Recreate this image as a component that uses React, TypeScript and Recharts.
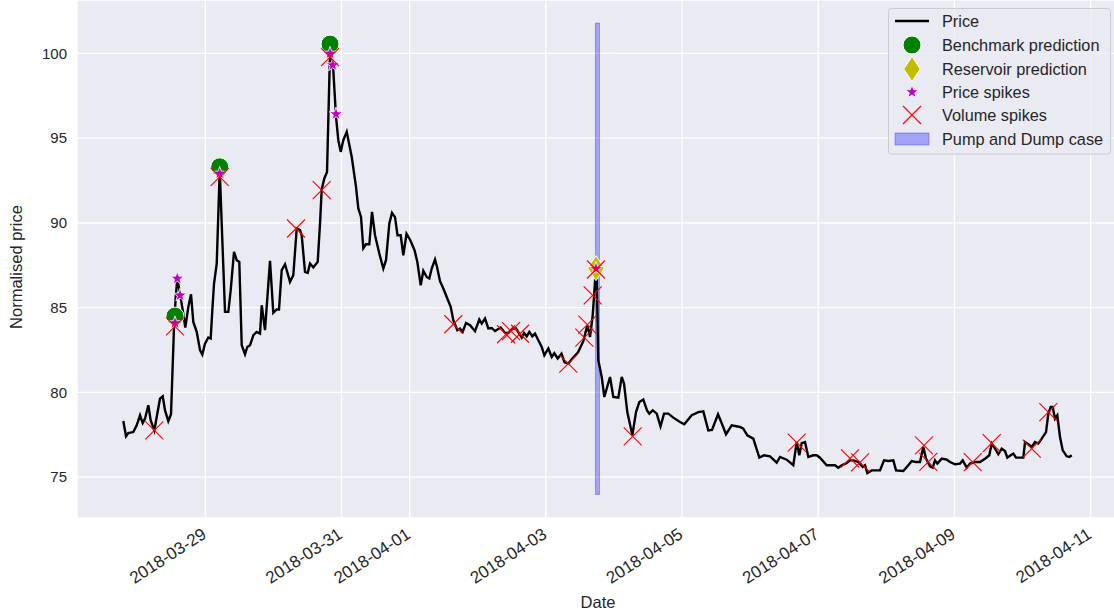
import React from "react";
import {
  ComposedChart,
  Line,
  Scatter,
  XAxis,
  YAxis,
  CartesianGrid,
  ReferenceArea,
} from "recharts";

// hours since 2018-03-29 00:00
const priceHours = [-28.9,-27.95,-27.14,-25.37,-24.18,-23.01,-22.06,-21.25,-20.09,-19.24,-17.97,-17.13,-15.97,-15.01,-14.2,-13.04,-12.09,-11.03,-10.43,-9.87,-8.92,-7.96,-7.05,-5.99,-5.04,-4.23,-3.03,-1.87,-1.06,-0.11,1.06,1.9,2.47,3.07,4.02,5.08,6.13,6.94,8.11,8.95,10.11,11.07,11.98,12.83,13.99,14.8,15.75,16.92,18.11,19.28,19.88,21.04,22.8,23.96,25.16,25.97,26.92,28.09,29.85,31.01,32.21,33.37,33.97,35.14,36.09,36.9,38.06,39.61,40.42,41.02,41.94,42.89,43.95,45.11,46.06,46.87,47.72,48.63,49.83,51.59,53.11,53.92,54.87,55.68,56.63,57.8,58.75,59.81,61.32,62.73,63.68,64.85,65.8,66.85,67.74,68.86,69.78,70.91,72.25,73.73,74.71,75.91,76.83,78.03,78.94,79.79,80.95,81.66,82.71,83.88,85.18,86.48,87.4,88.81,89.76,90.71,91.88,93.29,95.05,96.56,97.41,98.57,99.73,100.93,102.1,104.1,105.62,106.78,108.33,109.5,110.66,111.51,112.32,113.27,114.18,115.24,116.19,117.36,118.55,119.47,120.88,122.08,122.99,124.19,125.53,126.59,127.93,129.58,131.35,133.21,134.62,135.58,136.53,137.34,137.87,138.5,139.7,140.62,142.63,143.79,145.55,146.75,147.56,148.72,150.49,151.79,152.95,154.36,155.67,156.48,157.68,159.09,160.42,161.66,163.17,164.93,167.29,168.81,171.41,173.74,175.5,177.26,178.57,180.68,181.99,183.5,185.51,188.44,189.6,191.01,193.12,195.24,196.89,199.01,201.37,202.54,204.89,207.22,208.42,209.34,210.18,211.35,212.51,214.27,215.47,216.63,218.99,221.92,223.08,224.28,226.04,227.21,228.37,230.13,231.68,232.49,233.3,234.85,237.78,239.19,240.7,242.47,243.42,245.99,247.75,248.95,250.47,251.87,253.04,253.99,255.4,256.35,257.16,257.97,259.52,261.29,262.45,264.21,265.97,266.92,268.33,269.5,271.26,273.02,274.78,276.3,277.14,278.31,279.47,280.67,281.83,282.64,283.84,284.76,285.71,287.12,288.28,288.88,290.04,291.24,292.4,293.57,294.76,296.28,297.09,297.94,298.64,299.45,300.26,301.21,302.17,303.58,304.49,305.34];
const priceValues = [78.31,77.41,77.6,77.66,78.06,78.65,78.19,78.45,79.24,78.35,77.76,78.55,79.63,79.77,78.94,78.31,78.71,83.86,85.63,86.72,85.83,84.85,83.83,85.04,85.79,84.16,83.57,82.49,82.23,82.88,83.24,83.18,84.85,86.42,87.6,93.1,88.39,84.75,84.75,86.03,88.29,87.8,87.7,82.78,82.25,82.68,82.78,83.37,83.57,83.47,85.14,83.67,87.76,84.69,84.89,84.89,87.21,87.56,86.52,86.91,89.67,89.57,89.27,87.11,87.05,87.6,87.37,87.7,89.96,91.97,92.62,93.01,100.1,99.01,96.26,94.88,94.19,94.88,95.37,93.9,92.13,90.85,90.35,88.51,88.74,88.74,90.65,89.27,88.19,87.31,87.8,89.96,90.59,90.34,89.27,89.27,88.09,89.36,88.98,88.39,87.71,86.32,87.17,86.81,86.72,87.31,87.84,87.4,86.56,86.13,85.58,85.05,84.26,83.67,83.77,83.57,84.1,83.96,83.61,84.3,84.06,84.36,83.77,83.8,83.62,83.83,83.51,83.51,83.77,83.77,83.47,83.24,83.51,83.31,83.57,83.31,83.47,83.08,82.68,82.19,82.59,82.09,82.31,82.0,82.28,81.78,81.7,82.04,82.37,83.02,83.96,83.27,84.55,86.52,87.39,81.89,80.91,79.73,80.91,79.73,79.69,80.91,80.52,78.84,77.47,78.84,79.43,79.58,78.94,78.75,78.94,78.75,78.0,78.75,78.75,78.51,78.25,78.12,78.65,78.84,78.88,77.76,77.79,78.71,78.18,77.53,78.06,77.96,77.86,77.47,77.27,76.15,76.29,76.23,75.86,76.19,76.03,75.7,77.07,76.29,77.01,77.07,76.19,76.29,76.29,76.15,75.7,75.7,75.56,75.7,75.83,75.99,75.99,75.89,75.6,75.7,75.24,75.4,75.4,75.99,75.95,75.99,75.4,75.36,75.7,75.95,75.89,75.89,76.78,76.09,75.64,75.56,75.99,75.8,76.09,76.03,75.89,75.76,75.8,75.99,75.56,75.8,75.89,75.89,76.09,76.29,76.98,76.68,76.35,76.68,76.54,76.15,76.29,76.39,76.15,76.15,76.15,77.07,76.94,76.78,77.07,76.98,77.27,77.66,78.75,79.14,79.14,78.45,78.65,77.37,76.58,76.23,76.19,76.29];

const benchmarkHours = [-10.7, 5.08, 43.95];
const benchmarkValues = [84.5, 93.31, 100.55];

const reservoirHours = [137.69];
const reservoirValues = [87.33];

const priceSpikeHours = [-10.68, -9.87, -8.92, 5.08, 43.95, 44.9, 46.06, 137.69];
const priceSpikeValues = [84.1, 86.72, 85.73, 92.92, 100.0, 99.31, 96.42, 87.3];

const volumeSpikeHours = [-17.97,-10.68,5.08,31.96,41.02,43.95,87.4,105.97,107.74,110.91,127.93,133.57,134.62,136.53,137.69,150.62,208.42,227.21,230.73,253.28,254.8,270.45,277.14,291.24,297.09];
const volumeSpikeValues = [77.76,83.9,92.72,89.67,91.93,99.78,84.02,83.43,83.61,83.46,81.7,83.23,84.0,85.73,87.25,77.41,77.04,76.11,75.87,76.88,75.9,75.89,77.01,76.68,78.84];

const pumpStart = 137.5;
const pumpEnd = 138.9;
const pumpLow = 73.98;
const pumpHigh = 101.79;

const dateTicks = [0, 48, 72, 120, 168, 216, 264, 312];
const dateLabels = ["2018-03-29", "2018-03-31", "2018-04-01", "2018-04-03", "2018-04-05", "2018-04-07", "2018-04-09", "2018-04-11"];
const priceTicks = [75, 80, 85, 90, 95, 100];

const zip = (hs: number[], vs: number[]) => hs.map((h, i) => ({ h, v: vs[i] }));

const FONT = '"Liberation Sans", Arial, sans-serif';
const TEXT = "#262626";

function starPath(cx: number, cy: number, R: number) {
  const r = R * 0.4;
  let d = "";
  for (let i = 0; i < 10; i++) {
    const a = -Math.PI / 2 + (i * Math.PI) / 5;
    const rad = i % 2 === 0 ? R : r;
    d += (i ? "L" : "M") + (cx + rad * Math.cos(a)).toFixed(2) + "," + (cy + rad * Math.sin(a)).toFixed(2);
  }
  return d + "Z";
}

const CircleMark = ({ cx, cy }: any) => (
  <circle cx={cx} cy={cy} r={9} fill="#008000" stroke="#fff" strokeWidth={1} />
);
const DiamondMark = ({ cx, cy }: any) => (
  <path d={`M${cx},${cy - 12.5}L${cx + 8.3},${cy}L${cx},${cy + 12.5}L${cx - 8.3},${cy}Z`} fill="#bfbf00" stroke="#fff" strokeWidth={1} />
);
const StarMark = ({ cx, cy }: any) => (
  <path d={starPath(cx, cy, 7)} fill="#bf00bf" stroke="#fff" strokeWidth={0.8} />
);
const CrossMark = ({ cx, cy }: any) => (
  <g stroke="#ff0000" strokeWidth={1.1}>
    <line x1={cx - 9} y1={cy - 9} x2={cx + 9} y2={cy + 9} />
    <line x1={cx - 9} y1={cy + 9} x2={cx + 9} y2={cy - 9} />
  </g>
);

function DateTick({ x, y, payload }: any) {
  const label = dateLabels[dateTicks.indexOf(payload.value)];
  return (
    <g transform={`translate(${x + 2}, ${y + 19}) rotate(-33)`}>
      <text x={0} y={0} textAnchor="end" fontSize={17} fill={TEXT} fontFamily={FONT}>
        {label}
      </text>
    </g>
  );
}

function LegendBox() {
  const rows = [
    { label: "Price", y: 21 },
    { label: "Benchmark prediction", y: 45 },
    { label: "Reservoir prediction", y: 69 },
    { label: "Price spikes", y: 92 },
    { label: "Volume spikes", y: 115 },
    { label: "Pump and Dump case", y: 139 },
  ];
  const ix = 912;
  return (
    <svg width={1114} height={614} style={{ position: "absolute", left: 0, top: 0, pointerEvents: "none" }}>
      <rect x={888.5} y={8.5} width={222} height={145.5} rx={3} fill="#eaeaf2" fillOpacity={0.8} stroke="#cccccc" strokeWidth={1} />
      <line x1={895} y1={rows[0].y} x2={929} y2={rows[0].y} stroke="#000" strokeWidth={2.4} />
      <CircleMark cx={ix} cy={rows[1].y} />
      <DiamondMark cx={ix} cy={rows[2].y} />
      <StarMark cx={ix} cy={rows[3].y} />
      <CrossMark cx={ix} cy={rows[4].y} />
      <rect x={895} y={rows[5].y - 6} width={34} height={12} fill="#0000ff" fillOpacity={0.3} stroke="#0000ff" strokeOpacity={0.3} />
      {rows.map((r) => (
        <text key={r.label} x={942} y={r.y + 5.5} fontSize={16.3} fill={TEXT} fontFamily={FONT}>
          {r.label}
        </text>
      ))}
    </svg>
  );
}

export default function App() {
  const priceData = zip(priceHours, priceValues);
  return (
    <div style={{ position: "fixed", left: 0, top: 0, width: 1114, height: 614, overflow: "hidden", background: "#fff" }}>
      <ComposedChart width={1119} height={614} margin={{ top: 0, right: 0, bottom: 0, left: 0 }}>
        <CartesianGrid fill="#eaeaf2" fillOpacity={1} stroke="#ffffff" strokeWidth={1.3} />
        <XAxis
          type="number"
          dataKey="h"
          domain={[-45.22, 322]}
          ticks={dateTicks}
          allowDataOverflow
          axisLine={false}
          tickLine={false}
          tickSize={0}
          tickMargin={0}
          height={96}
          interval={0}
          tick={<DateTick />}
          label={{ value: "Date", position: "insideBottom", offset: 6, fontSize: 16.5, fill: TEXT, fontFamily: FONT }}
        />
        <YAxis
          type="number"
          dataKey="v"
          domain={[72.59, 103.15]}
          ticks={priceTicks}
          allowDataOverflow
          axisLine={false}
          tickLine={false}
          tickSize={0}
          tickMargin={10}
          width={77}
          tick={{ fontSize: 15, fill: TEXT, fontFamily: FONT }}
          label={{ value: "Normalised price", angle: -90, position: "center", dx: -22, dy: 8, fontSize: 16.5, fill: TEXT, fontFamily: FONT }}
        />
        <ReferenceArea x1={pumpStart} x2={pumpEnd} y1={pumpLow} y2={pumpHigh} fill="#0000ff" fillOpacity={0.3} stroke="#0000ff" strokeOpacity={0.3} />
        <Scatter data={zip(benchmarkHours, benchmarkValues)} dataKey="v" shape={<CircleMark />} isAnimationActive={false} />
        <Scatter data={zip(reservoirHours, reservoirValues)} dataKey="v" shape={<DiamondMark />} isAnimationActive={false} />
        <Line data={priceData} dataKey="v" type="linear" stroke="#000" strokeWidth={2.4} dot={false} activeDot={false} isAnimationActive={false} />
        <Scatter data={zip(priceSpikeHours, priceSpikeValues)} dataKey="v" shape={<StarMark />} isAnimationActive={false} />
        <Scatter data={zip(volumeSpikeHours, volumeSpikeValues)} dataKey="v" shape={<CrossMark />} isAnimationActive={false} />
      </ComposedChart>
      <LegendBox />
    </div>
  );
}
